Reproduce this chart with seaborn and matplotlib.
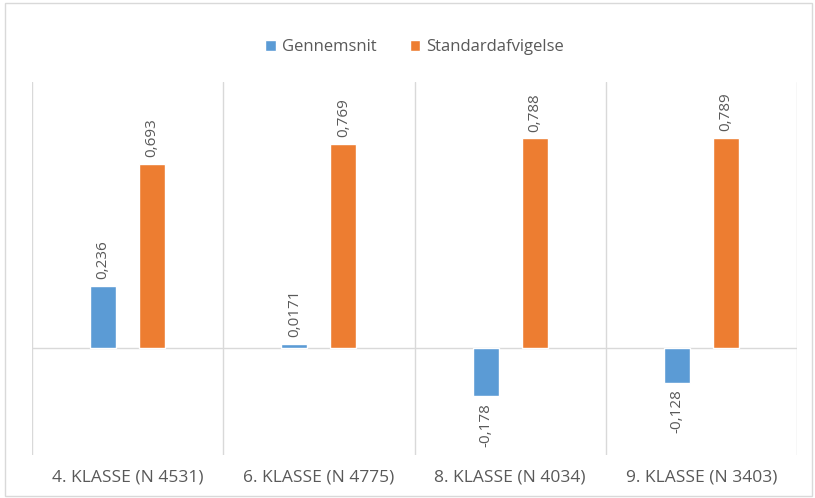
import pandas as pd
import matplotlib.pyplot as plt
import seaborn as sns
from matplotlib.patches import Rectangle

# chart values
categories = ['4. KLASSE (N 4531)', '6. KLASSE (N 4775)', '8. KLASSE (N 4034)', '9. KLASSE (N 3403)']
gennemsnit = [0.236, 0.0171, -0.178, -0.128]
standardafvigelse = [0.693, 0.769, 0.788, 0.789]
gennemsnit_labels = ['0,236', '0,0171', '-0,178', '-0,128']
std_labels = ['0,693', '0,769', '0,788', '0,789']

df = pd.DataFrame({
    'Klasse': categories * 2,
    'Serie': ['Gennemsnit'] * 4 + ['Standardafvigelse'] * 4,
    'Værdi': gennemsnit + standardafvigelse,
})

sns.set_style('white')
plt.rcParams['font.family'] = ['Open Sans', 'DejaVu Sans']

fig = plt.figure(figsize=(8.15, 4.98), dpi=100)
ax = fig.add_axes([32 / 815, 1 - 455 / 498, 765 / 815, (455 - 82) / 498])

palette = {'Gennemsnit': '#5B9BD5', 'Standardafvigelse': '#ED7D31'}
sns.barplot(data=df, x='Klasse', y='Værdi', hue='Serie', palette=palette,
            width=0.512, gap=0.47, ax=ax, saturation=1, legend=True)

ax.set_ylim(-0.4, 1.0)
ax.set_xlim(-0.5, 3.5)
ax.set_xlabel('')
ax.set_ylabel('')
ax.set_yticks([])
ax.set_xticks([])
for s in ax.spines.values():
    s.set_visible(False)

# category separators and zero line
for xv in [-0.5, 0.5, 1.5, 2.5, 3.5]:
    ax.axvline(xv, color='#D9D9D9', lw=1, zorder=0)
ax.axhline(0, color='#D9D9D9', lw=1, zorder=0)

# value labels
for cont, labels in zip(ax.containers, [gennemsnit_labels, std_labels]):
    for bar, lab in zip(cont, labels):
        h = bar.get_height()
        x = bar.get_x() + bar.get_width() / 2
        if h >= 0:
            ax.annotate(lab, (x, h), xytext=(0, 5), textcoords='offset points',
                        rotation=90, ha='center', va='bottom', color='#595959', fontsize=11)
        else:
            ax.annotate(lab, (x, h), xytext=(0, -5), textcoords='offset points',
                        rotation=90, ha='center', va='top', color='#595959', fontsize=11)

# category labels below plot
for i, c in enumerate(categories):
    ax.text(i, -0.455, c, ha='center', va='top',
            fontsize=12.5, color='#595959')

leg = ax.legend(loc='upper center', bbox_to_anchor=(0.5, 1 + 58 / 373), ncol=2, frameon=False,
                fontsize=12, handlelength=0.65, handleheight=0.65, columnspacing=2.0,
                handletextpad=0.35, labelcolor='#595959')

fig.patches.append(Rectangle((0.006, 0.004), 0.99, 0.99, transform=fig.transFigure,
                             fill=False, edgecolor='#D9D9D9', lw=1))

fig.savefig('out.png', dpi=100)
